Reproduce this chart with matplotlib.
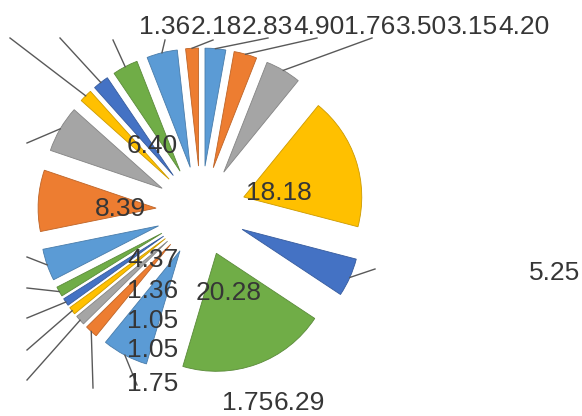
import numpy as np
import matplotlib
matplotlib.use("Agg")
import matplotlib.pyplot as plt
import matplotlib.colors as mcolors

W, H = 582, 416

# slice values, clockwise from 12 o'clock (percent)
values = [2.83, 3.15, 4.90, 18.18, 5.25, 20.28, 6.29, 1.75, 1.36, 1.05,
          1.05, 1.36, 4.37, 8.39, 6.40, 1.76, 2.18, 3.50, 4.20, 1.75]
labels = [f"{v:.2f}" for v in values]

excel_colors = ['#5B9BD5', '#ED7D31', '#A5A5A5', '#FFC000', '#4472C4', '#70AD47']
colors = [excel_colors[i % len(excel_colors)] for i in range(len(values))]

# layout in pixels from the top-left corner of the picture
center = (201, 211)
radius = 118
explode = 45

# where each data label was dragged to (text baseline)
label_pos = [(267, 34), (473, 34), (319, 34), (279, 200), (555, 280),
             (229, 300), (299, 410), (153, 391), (165, 34), (153, 357),
             (153, 328), (153, 298), (153, 267), (120, 216), (152, 153),
             (370, 34), (216, 34), (422, 34), (524, 34), (248, 410)]

# far end of each leader line, None = no line
leader_from = [(268, 38), (317, 38), (372, 38), None, (375, 269),
               None, (137, 385), (93, 388), (27, 380), (27, 350),
               (27, 318), (27, 288), (27, 257), None, (27, 143),
               (10, 38), (60, 38), (113, 40), (165, 40), (213, 40)]


def flip(p):
    return (p[0], H - p[1])


fig = plt.figure(figsize=(W / 100, H / 100), dpi=100)
fig.patch.set_facecolor('white')
ax = fig.add_axes([0, 0, 1, 1])

edges = [tuple(c * 0.8 for c in mcolors.to_rgb(col)) for col in colors]
wedges, _ = ax.pie(values, colors=colors, startangle=90, counterclock=False,
                   explode=[explode] * len(values), radius=radius,
                   center=flip(center),
                   wedgeprops=dict(linewidth=0.6))
for w, ec in zip(wedges, edges):
    w.set_edgecolor(ec)

# leader lines from the outer edge of each slice
cum = np.cumsum([0] + values) / sum(values) * 360
for i, start in enumerate(leader_from):
    if start is None:
        continue
    mid = np.radians((cum[i] + cum[i + 1]) / 2)
    cx, cy = flip(center)
    end = (cx + (radius + explode) * np.sin(mid), cy + (radius + explode) * np.cos(mid))
    s = flip(start)
    ax.plot([s[0], end[0]], [s[1], end[1]], color='#595959', lw=1.0, zorder=3)

for txt, pos in zip(labels, label_pos):
    x, y = flip(pos)
    ax.text(x, y, txt, ha='center', va='baseline', fontsize=19,
            family='Liberation Sans', color='#363636', zorder=4)

ax.set_xlim(0, W)
ax.set_ylim(0, H)
ax.set_aspect('equal')
ax.axis('off')

fig.savefig('out.png', dpi=100, facecolor='white')
